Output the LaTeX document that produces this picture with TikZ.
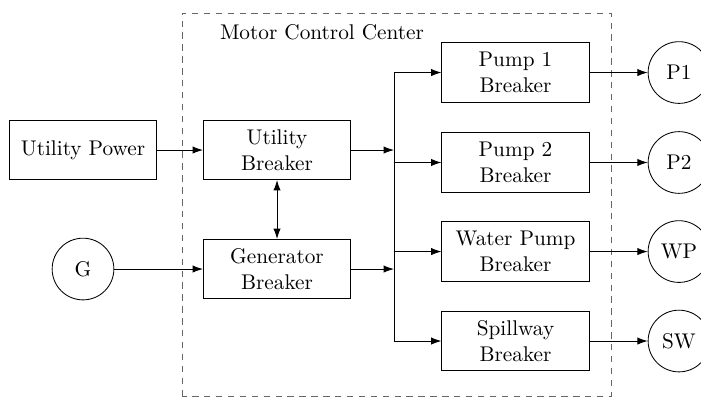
\documentclass[tikz,border=0pt]{standalone}
\usepackage{tikz}
\usetikzlibrary{arrows.meta, positioning}

\begin{document}
\begin{tikzpicture}[
    block/.style={rectangle, draw, minimum width=2.4cm, minimum height=0.98cm, text width=2.2cm, align=center},
    load/.style={circle, draw, minimum size=1.02cm, inner sep=0pt},
    arrow/.style={-{Latex[length=1.7mm, width=1.2mm]}},
    darrow/.style={{Latex[length=1.7mm, width=1.2mm]}-{Latex[length=1.7mm, width=1.2mm]}},
    mcc/.style={draw=black!60, dashed, dash pattern=on 3pt off 2.6pt},
]
\useasboundingbox (0,0) rectangle (11.587,6.579);

% === Motor Control Center (dashed enclosure) ===
\draw[mcc] (3.008,0.033) rectangle (10.099,6.364);
\node (mcclabel) at (5.322,6.05) {Motor Control Center};

% === Sources ===
\node[block] (utilpow) at (1.372,4.099) {Utility Power};
\node[load] (gen) at (1.372,2.132) {G};

% === Source breakers ===
\node[block] (utilbrk) at (4.579,4.099) {Utility\\Breaker};
\node[block] (genbrk) at (4.579,2.132) {Generator\\Breaker};

% === Load breakers ===
\node[block] (p1brk) at (8.521,5.380) {Pump 1\\Breaker};
\node[block] (p2brk) at (8.521,3.893) {Pump 2\\Breaker};
\node[block] (wpbrk) at (8.521,2.421) {Water Pump\\Breaker};
\node[block] (swbrk) at (8.521,0.942) {Spillway\\Breaker};

% === Loads ===
\node[load] (p1) at (11.223,5.380) {P1};
\node[load] (p2) at (11.223,3.893) {P2};
\node[load] (wp) at (11.223,2.421) {WP};
\node[load] (sw) at (11.223,0.942) {SW};

% === Bus ===
\coordinate (bustop) at (6.512,5.380);
\coordinate (busbot) at (6.512,0.942);
\draw (bustop) -- (busbot);

% === Arrows: sources -> breakers -> bus ===
\draw[arrow] (utilpow) -- (utilbrk);
\draw[arrow] (gen) -- (genbrk);
\draw[darrow] (utilbrk) -- (genbrk);
\draw[arrow] (utilbrk.east) -- (utilbrk.east -| bustop);
\draw[arrow] (genbrk.east) -- (genbrk.east -| bustop);

% === Arrows: bus -> load breakers -> loads ===
\draw[arrow] (bustop) -- (p1brk.west);
\draw[arrow] (p2brk.west -| bustop) -- (p2brk.west);
\draw[arrow] (wpbrk.west -| bustop) -- (wpbrk.west);
\draw[arrow] (busbot) -- (swbrk.west);
\draw[arrow] (p1brk) -- (p1);
\draw[arrow] (p2brk) -- (p2);
\draw[arrow] (wpbrk) -- (wp);
\draw[arrow] (swbrk) -- (sw);

\end{tikzpicture}
\end{document}
